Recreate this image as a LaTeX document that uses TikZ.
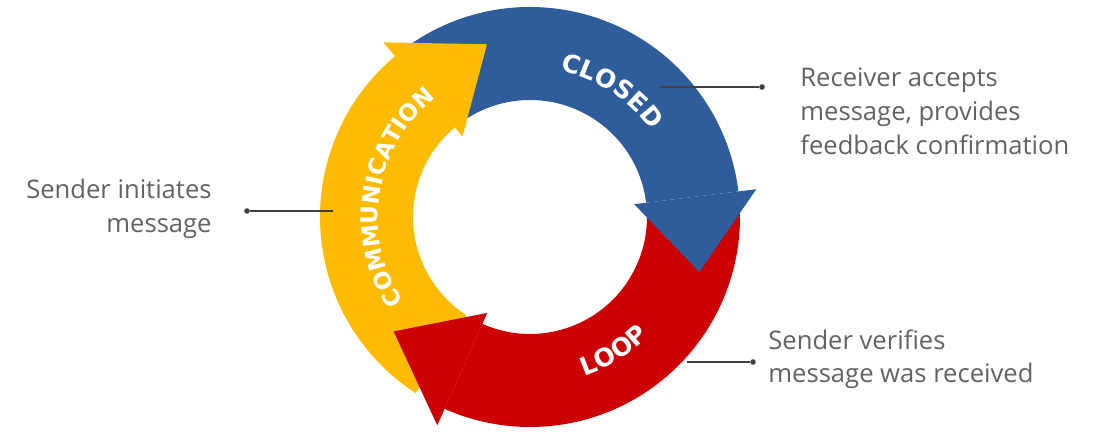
\documentclass[tikz,border=0pt]{standalone}
\usepackage{fontspec}
\setmainfont{Open Sans}
\newfontfamily\ringfont{DejaVu Sans}
\usetikzlibrary{decorations.text}
\definecolor{ringyellow}{HTML}{FFBB00}
\definecolor{ringblue}{HTML}{2F5D9C}
\definecolor{ringred}{HTML}{CC0000}
\definecolor{labelgray}{HTML}{626262}
\definecolor{leadergray}{HTML}{404040}
\begin{document}
\begin{tikzpicture}[x=0.5pt,y=0.5pt,
  labeltext/.style={font=\fontsize{12.8}{17}\selectfont, text=labelgray, inner sep=0pt},
  leader/.style={draw=leadergray, line width=0.6pt},
  dotnode/.style={circle, fill=leadergray, inner sep=0pt, minimum size=2.8pt},
  ringtext/.style 2 args={decorate, decoration={text along path, text align=center, text color=white,
     text={|\ringfont\bfseries\fontsize{#1}{14}\selectfont|#2}}},
]
\useasboundingbox (0,0) rectangle (1100,-433);
\begin{scope}[shift={(530,-217)}]
  % arrow bodies
  \fill[ringyellow] (237:210) arc[start angle=237,end angle=130,radius=210]
     -- (130:117) arc[start angle=130,end angle=237,radius=117] -- cycle;
  \fill[ringblue] (127:210) arc[start angle=127,end angle=7,radius=210]
     -- (7:117) arc[start angle=7,end angle=127,radius=117] -- cycle;
  \fill[ringred] (1:210) arc[start angle=1,end angle=-114,radius=210]
     -- (-114:117) arc[start angle=-114,end angle=1,radius=117] -- cycle;
  % arrow heads
  \fill[ringyellow] (130:105) -- (130:228) -- (104:178) -- cycle;
  \fill[ringblue] (7:105) -- (7:228) -- (-18:178) -- cycle;
  \fill[ringred] (246:105) -- (246:228) -- (220:178) -- cycle;
  % ring texts
  \path[ringtext={12.5}{CLOSED}] (117:149) arc[start angle=117,end angle=-3,radius=149];
  \path[ringtext={11.5}{COMMUNICATION}] (251:152) arc[start angle=251,end angle=91,radius=152];
  \path[ringtext={12.5}{LOOP}] (-98:168) arc[start angle=-98,end angle=-18,radius=168];
\end{scope}
% leaders
\node[dotnode] (d1) at (762,-87) {};
\coordinate (e1) at (660,-87);
\draw[leader] (e1) -- (d1);
\node[dotnode] (d2) at (247,-211) {};
\coordinate (e2) at (333,-211);
\draw[leader] (e2) -- (d2);
\node[dotnode] (d3) at (753,-362) {};
\coordinate (e3) at (687,-362);
\draw[leader] (e3) -- (d3);
% labels (base anchor = baseline of the last line)
\node[labeltext, align=left, anchor=base west] (l1) at (800,-155) {Receiver accepts\\message, provides\\feedback confirmation};
\node[labeltext, align=right, anchor=base east] (l2) at (212,-233) {Sender initiates\\message};
\node[labeltext, align=left, anchor=base west] (l3) at (768,-383) {Sender verifies\\message was received};
\end{tikzpicture}
\end{document}
